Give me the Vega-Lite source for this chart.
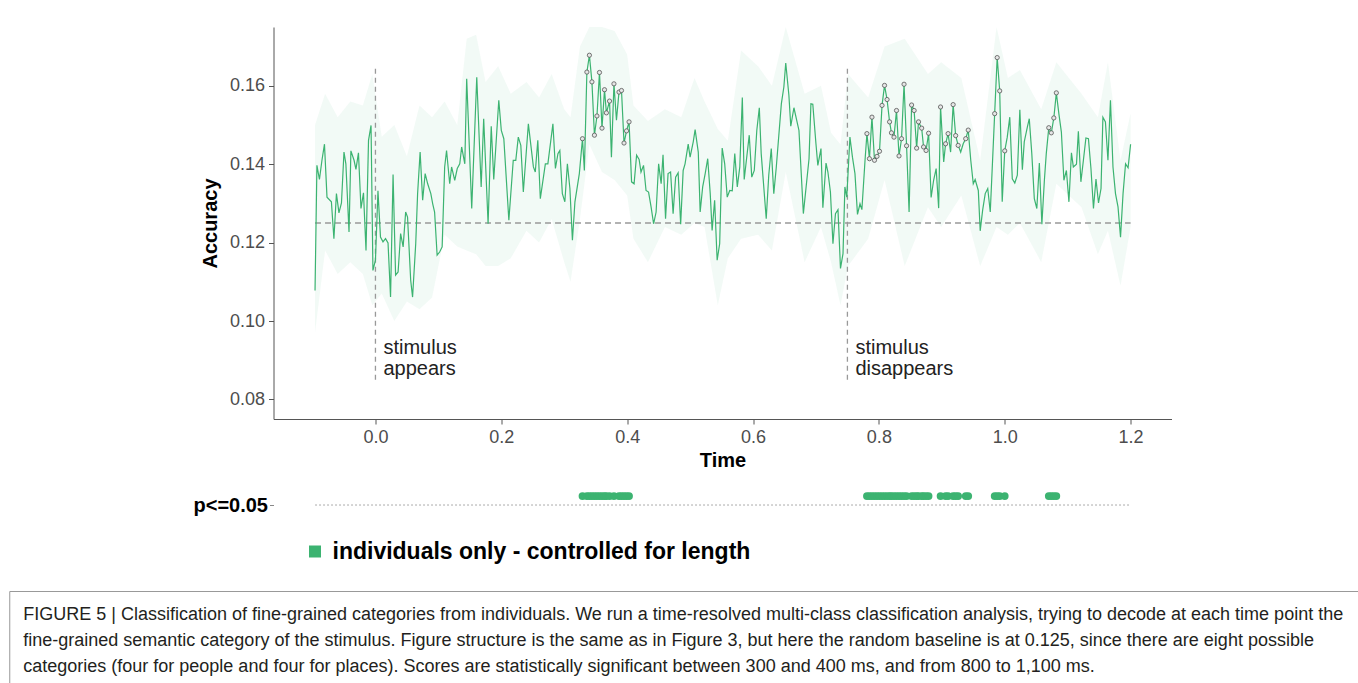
{
  "$schema": "https://vega.github.io/schema/vega-lite/v6.json",
  "background": "white",
  "padding": {"left": 8, "top": 27, "right": 0, "bottom": 0},
  "config": {"view": {"stroke": null}, "font": "Liberation Sans"},
  "datasets": {
    "acc": [
      {"time": -0.096, "acc": 0.1078}, {"time": -0.093, "acc": 0.1397}, {"time": -0.089, "acc": 0.1361}, {"time": -0.085, "acc": 0.141}, {"time": -0.081, "acc": 0.1451}, {"time": -0.077, "acc": 0.1316}, {"time": -0.070, "acc": 0.1304}, {"time": -0.066, "acc": 0.121}, {"time": -0.062, "acc": 0.1325}, {"time": -0.058, "acc": 0.1276}, {"time": -0.054, "acc": 0.1301}, {"time": -0.050, "acc": 0.1431}, {"time": -0.047, "acc": 0.1401}, {"time": -0.042, "acc": 0.1227}, {"time": -0.039, "acc": 0.1434}, {"time": -0.034, "acc": 0.141}, {"time": -0.031, "acc": 0.1387}, {"time": -0.027, "acc": 0.1429}, {"time": -0.023, "acc": 0.1287}, {"time": -0.019, "acc": 0.1327}, {"time": -0.015, "acc": 0.118}, {"time": -0.011, "acc": 0.1461}, {"time": -0.007, "acc": 0.1499}, {"time": -0.004, "acc": 0.1129}, {"time": 0.000, "acc": 0.1155}, {"time": 0.004, "acc": 0.1332}, {"time": 0.008, "acc": 0.1214}, {"time": 0.012, "acc": 0.1202}, {"time": 0.016, "acc": 0.121}, {"time": 0.020, "acc": 0.1199}, {"time": 0.024, "acc": 0.1061}, {"time": 0.028, "acc": 0.1374}, {"time": 0.032, "acc": 0.1117}, {"time": 0.036, "acc": 0.1125}, {"time": 0.040, "acc": 0.1223}, {"time": 0.044, "acc": 0.1189}, {"time": 0.048, "acc": 0.1278}, {"time": 0.051, "acc": 0.1265}, {"time": 0.056, "acc": 0.1104}, {"time": 0.059, "acc": 0.1061}, {"time": 0.064, "acc": 0.1197}, {"time": 0.067, "acc": 0.1325}, {"time": 0.071, "acc": 0.1431}, {"time": 0.075, "acc": 0.1308}, {"time": 0.079, "acc": 0.1376}, {"time": 0.083, "acc": 0.135}, {"time": 0.088, "acc": 0.1325}, {"time": 0.091, "acc": 0.1299}, {"time": 0.094, "acc": 0.1278}, {"time": 0.098, "acc": 0.1168}, {"time": 0.102, "acc": 0.1176}, {"time": 0.106, "acc": 0.1189}, {"time": 0.110, "acc": 0.1393}, {"time": 0.113, "acc": 0.1435}, {"time": 0.118, "acc": 0.135},
      {"time": 0.121, "acc": 0.1393}, {"time": 0.126, "acc": 0.1359}, {"time": 0.130, "acc": 0.1389}, {"time": 0.134, "acc": 0.1401}, {"time": 0.137, "acc": 0.1444}, {"time": 0.142, "acc": 0.1401}, {"time": 0.145, "acc": 0.1618}, {"time": 0.153, "acc": 0.1287}, {"time": 0.161, "acc": 0.1622}, {"time": 0.168, "acc": 0.1342}, {"time": 0.172, "acc": 0.1516}, {"time": 0.179, "acc": 0.1248}, {"time": 0.184, "acc": 0.1497}, {"time": 0.188, "acc": 0.1361}, {"time": 0.196, "acc": 0.1563}, {"time": 0.200, "acc": 0.1486}, {"time": 0.204, "acc": 0.1465}, {"time": 0.212, "acc": 0.1257}, {"time": 0.219, "acc": 0.141}, {"time": 0.223, "acc": 0.141}, {"time": 0.227, "acc": 0.1469}, {"time": 0.231, "acc": 0.1448}, {"time": 0.235, "acc": 0.1329}, {"time": 0.243, "acc": 0.1503}, {"time": 0.251, "acc": 0.1393}, {"time": 0.254, "acc": 0.138}, {"time": 0.258, "acc": 0.1461}, {"time": 0.262, "acc": 0.1312}, {"time": 0.270, "acc": 0.1401}, {"time": 0.274, "acc": 0.1401}, {"time": 0.282, "acc": 0.1503}, {"time": 0.286, "acc": 0.1389}, {"time": 0.290, "acc": 0.1427}, {"time": 0.293, "acc": 0.1435}, {"time": 0.297, "acc": 0.1325}, {"time": 0.301, "acc": 0.1304}, {"time": 0.305, "acc": 0.1401}, {"time": 0.309, "acc": 0.1338}, {"time": 0.313, "acc": 0.1206}, {"time": 0.317, "acc": 0.1304}, {"time": 0.324, "acc": 0.1376}, {"time": 0.329, "acc": 0.1465, "sig": 1}, {"time": 0.332, "acc": 0.1384},
      {"time": 0.336, "acc": 0.1635, "sig": 1}, {"time": 0.340, "acc": 0.1678, "sig": 1}, {"time": 0.344, "acc": 0.161, "sig": 1}, {"time": 0.348, "acc": 0.1474, "sig": 1}, {"time": 0.352, "acc": 0.1523, "sig": 1}, {"time": 0.356, "acc": 0.1634, "sig": 1}, {"time": 0.360, "acc": 0.1492, "sig": 1}, {"time": 0.364, "acc": 0.159, "sig": 1}, {"time": 0.367, "acc": 0.1531, "sig": 1}, {"time": 0.372, "acc": 0.1561, "sig": 1}, {"time": 0.375, "acc": 0.1418}, {"time": 0.379, "acc": 0.1605, "sig": 1}, {"time": 0.383, "acc": 0.1512}, {"time": 0.387, "acc": 0.1584, "sig": 1}, {"time": 0.391, "acc": 0.1588, "sig": 1}, {"time": 0.395, "acc": 0.1454, "sig": 1}, {"time": 0.399, "acc": 0.1485, "sig": 1}, {"time": 0.403, "acc": 0.1508, "sig": 1}, {"time": 0.407, "acc": 0.1355}, {"time": 0.411, "acc": 0.135}, {"time": 0.415, "acc": 0.1423}, {"time": 0.419, "acc": 0.1412}, {"time": 0.422, "acc": 0.138}, {"time": 0.426, "acc": 0.1397}, {"time": 0.430, "acc": 0.1333}, {"time": 0.434, "acc": 0.1329}, {"time": 0.438, "acc": 0.1291}, {"time": 0.442, "acc": 0.1248}, {"time": 0.446, "acc": 0.1278}, {"time": 0.450, "acc": 0.1401}, {"time": 0.454, "acc": 0.135}, {"time": 0.457, "acc": 0.1424}, {"time": 0.461, "acc": 0.1261}, {"time": 0.465, "acc": 0.1376}, {"time": 0.469, "acc": 0.138}, {"time": 0.473, "acc": 0.1274}, {"time": 0.477, "acc": 0.1367}, {"time": 0.481, "acc": 0.1378}, {"time": 0.485, "acc": 0.1247}, {"time": 0.489, "acc": 0.1384}, {"time": 0.492, "acc": 0.1401}, {"time": 0.497, "acc": 0.1451}, {"time": 0.500, "acc": 0.1418}, {"time": 0.505, "acc": 0.1457}, {"time": 0.508, "acc": 0.1488}, {"time": 0.513, "acc": 0.1431}, {"time": 0.516, "acc": 0.1278}, {"time": 0.520, "acc": 0.1342}, {"time": 0.524, "acc": 0.1376}, {"time": 0.528, "acc": 0.1414}, {"time": 0.532, "acc": 0.1325}, {"time": 0.535, "acc": 0.1231}, {"time": 0.539, "acc": 0.1308}, {"time": 0.543, "acc": 0.1155}, {"time": 0.547, "acc": 0.1197}, {"time": 0.551, "acc": 0.1441}, {"time": 0.555, "acc": 0.1401}, {"time": 0.559, "acc": 0.1316}, {"time": 0.563, "acc": 0.1333},
      {"time": 0.567, "acc": 0.1332}, {"time": 0.571, "acc": 0.1427}, {"time": 0.575, "acc": 0.1342}, {"time": 0.579, "acc": 0.1393}, {"time": 0.583, "acc": 0.157}, {"time": 0.586, "acc": 0.1361}, {"time": 0.594, "acc": 0.1474}, {"time": 0.598, "acc": 0.1367}, {"time": 0.602, "acc": 0.1384}, {"time": 0.606, "acc": 0.1486}, {"time": 0.610, "acc": 0.1544}, {"time": 0.613, "acc": 0.1427}, {"time": 0.621, "acc": 0.1261}, {"time": 0.625, "acc": 0.1372}, {"time": 0.629, "acc": 0.144}, {"time": 0.633, "acc": 0.1325}, {"time": 0.637, "acc": 0.1393}, {"time": 0.645, "acc": 0.1554}, {"time": 0.649, "acc": 0.1597}, {"time": 0.652, "acc": 0.1658}, {"time": 0.657, "acc": 0.1576}, {"time": 0.660, "acc": 0.1497}, {"time": 0.665, "acc": 0.1544}, {"time": 0.673, "acc": 0.1486}, {"time": 0.680, "acc": 0.1274}, {"time": 0.689, "acc": 0.1414}, {"time": 0.692, "acc": 0.1554}, {"time": 0.695, "acc": 0.1553}, {"time": 0.700, "acc": 0.1452}, {"time": 0.703, "acc": 0.1397}, {"time": 0.708, "acc": 0.144}, {"time": 0.711, "acc": 0.1289}, {"time": 0.716, "acc": 0.1403}, {"time": 0.719, "acc": 0.138}, {"time": 0.723, "acc": 0.1329}, {"time": 0.727, "acc": 0.1197}, {"time": 0.731, "acc": 0.1274}, {"time": 0.735, "acc": 0.1284}, {"time": 0.739, "acc": 0.1134}, {"time": 0.743, "acc": 0.1172}, {"time": 0.746, "acc": 0.1342}, {"time": 0.749, "acc": 0.1316}, {"time": 0.754, "acc": 0.1469}, {"time": 0.758, "acc": 0.1418}, {"time": 0.762, "acc": 0.1376}, {"time": 0.766, "acc": 0.1272}, {"time": 0.770, "acc": 0.1299}, {"time": 0.773, "acc": 0.1284}, {"time": 0.778, "acc": 0.141}, {"time": 0.781, "acc": 0.1478, "sig": 1}, {"time": 0.785, "acc": 0.1414, "sig": 1},
      {"time": 0.789, "acc": 0.152, "sig": 1}, {"time": 0.793, "acc": 0.141, "sig": 1}, {"time": 0.797, "acc": 0.142, "sig": 1}, {"time": 0.801, "acc": 0.1433, "sig": 1}, {"time": 0.805, "acc": 0.155, "sig": 1}, {"time": 0.809, "acc": 0.1601, "sig": 1}, {"time": 0.813, "acc": 0.1565, "sig": 1}, {"time": 0.817, "acc": 0.1508, "sig": 1}, {"time": 0.820, "acc": 0.148, "sig": 1}, {"time": 0.824, "acc": 0.1469, "sig": 1}, {"time": 0.828, "acc": 0.1537, "sig": 1}, {"time": 0.832, "acc": 0.1421, "sig": 1}, {"time": 0.836, "acc": 0.1465, "sig": 1}, {"time": 0.840, "acc": 0.1604, "sig": 1}, {"time": 0.844, "acc": 0.1447, "sig": 1}, {"time": 0.848, "acc": 0.1278}, {"time": 0.852, "acc": 0.1551, "sig": 1}, {"time": 0.856, "acc": 0.1537, "sig": 1}, {"time": 0.860, "acc": 0.1441, "sig": 1}, {"time": 0.863, "acc": 0.1508, "sig": 1}, {"time": 0.868, "acc": 0.1492, "sig": 1}, {"time": 0.871, "acc": 0.1444, "sig": 1}, {"time": 0.875, "acc": 0.1435, "sig": 1}, {"time": 0.879, "acc": 0.1479, "sig": 1}, {"time": 0.883, "acc": 0.1315}, {"time": 0.887, "acc": 0.1359}, {"time": 0.891, "acc": 0.1389}, {"time": 0.895, "acc": 0.1288}, {"time": 0.898, "acc": 0.1546, "sig": 1}, {"time": 0.903, "acc": 0.1406}, {"time": 0.906, "acc": 0.1452, "sig": 1}, {"time": 0.910, "acc": 0.1478, "sig": 1}, {"time": 0.914, "acc": 0.1431}, {"time": 0.918, "acc": 0.1552, "sig": 1}, {"time": 0.922, "acc": 0.1473, "sig": 1}, {"time": 0.926, "acc": 0.1448, "sig": 1}, {"time": 0.930, "acc": 0.1431}, {"time": 0.934, "acc": 0.1452}, {"time": 0.938, "acc": 0.1465, "sig": 1}, {"time": 0.942, "acc": 0.1487, "sig": 1}, {"time": 0.946, "acc": 0.141}, {"time": 0.950, "acc": 0.135}, {"time": 0.953, "acc": 0.1361}, {"time": 0.958, "acc": 0.1333}, {"time": 0.961, "acc": 0.123}, {"time": 0.965, "acc": 0.1284}, {"time": 0.969, "acc": 0.1325}, {"time": 0.973, "acc": 0.1338}, {"time": 0.977, "acc": 0.1278}, {"time": 0.984, "acc": 0.1529, "sig": 1}, {"time": 0.988, "acc": 0.1672, "sig": 1}, {"time": 0.992, "acc": 0.1587, "sig": 1}, {"time": 0.996, "acc": 0.1304}, {"time": 1.000, "acc": 0.1434, "sig": 1}, {"time": 1.004, "acc": 0.1469}, {"time": 1.008, "acc": 0.152},
      {"time": 1.012, "acc": 0.1363}, {"time": 1.016, "acc": 0.1352}, {"time": 1.020, "acc": 0.1372}, {"time": 1.024, "acc": 0.1539}, {"time": 1.028, "acc": 0.1386}, {"time": 1.031, "acc": 0.1457}, {"time": 1.036, "acc": 0.1495}, {"time": 1.039, "acc": 0.1516}, {"time": 1.043, "acc": 0.1427}, {"time": 1.047, "acc": 0.1312}, {"time": 1.051, "acc": 0.1287}, {"time": 1.055, "acc": 0.1403}, {"time": 1.059, "acc": 0.1247}, {"time": 1.063, "acc": 0.1359}, {"time": 1.066, "acc": 0.1427}, {"time": 1.070, "acc": 0.1493, "sig": 1}, {"time": 1.074, "acc": 0.148, "sig": 1}, {"time": 1.078, "acc": 0.1518, "sig": 1}, {"time": 1.082, "acc": 0.1582, "sig": 1}, {"time": 1.086, "acc": 0.1529}, {"time": 1.090, "acc": 0.1482}, {"time": 1.094, "acc": 0.1359}, {"time": 1.098, "acc": 0.1384}, {"time": 1.102, "acc": 0.1304}, {"time": 1.106, "acc": 0.1429}, {"time": 1.109, "acc": 0.1393}, {"time": 1.114, "acc": 0.14}, {"time": 1.117, "acc": 0.1484}, {"time": 1.121, "acc": 0.1355}, {"time": 1.125, "acc": 0.141}, {"time": 1.129, "acc": 0.1467}, {"time": 1.133, "acc": 0.1465}, {"time": 1.137, "acc": 0.1389}, {"time": 1.141, "acc": 0.1287}, {"time": 1.145, "acc": 0.1362}, {"time": 1.149, "acc": 0.1301}, {"time": 1.153, "acc": 0.1338}, {"time": 1.156, "acc": 0.152}, {"time": 1.160, "acc": 0.1508}, {"time": 1.164, "acc": 0.141}, {"time": 1.168, "acc": 0.1563}, {"time": 1.172, "acc": 0.1393}, {"time": 1.176, "acc": 0.1325}, {"time": 1.180, "acc": 0.1291}, {"time": 1.184, "acc": 0.1214}, {"time": 1.188, "acc": 0.1325}, {"time": 1.192, "acc": 0.1401}, {"time": 1.196, "acc": 0.1391}, {"time": 1.200, "acc": 0.1451}
    ],
    "band": [
      {"time": -0.096, "lo": 0.097, "hi": 0.150}, {"time": -0.08, "lo": 0.118, "hi": 0.158}, {"time": -0.06, "lo": 0.112, "hi": 0.152}, {"time": -0.04, "lo": 0.115, "hi": 0.156}, {"time": -0.02, "lo": 0.112, "hi": 0.155}, {"time": -0.005, "lo": 0.104, "hi": 0.163}, {"time": 0.01, "lo": 0.107, "hi": 0.147}, {"time": 0.03, "lo": 0.100, "hi": 0.150}, {"time": 0.05, "lo": 0.105, "hi": 0.142}, {"time": 0.07, "lo": 0.103, "hi": 0.155}, {"time": 0.09, "lo": 0.106, "hi": 0.152}, {"time": 0.11, "lo": 0.122, "hi": 0.156}, {"time": 0.13, "lo": 0.119, "hi": 0.150}, {"time": 0.145, "lo": 0.118, "hi": 0.172}, {"time": 0.16, "lo": 0.117, "hi": 0.173}, {"time": 0.175, "lo": 0.114, "hi": 0.161}, {"time": 0.195, "lo": 0.114, "hi": 0.165}, {"time": 0.215, "lo": 0.116, "hi": 0.158}, {"time": 0.24, "lo": 0.123, "hi": 0.161}, {"time": 0.26, "lo": 0.120, "hi": 0.157}, {"time": 0.28, "lo": 0.126, "hi": 0.163}, {"time": 0.30, "lo": 0.115, "hi": 0.154}, {"time": 0.31, "lo": 0.110, "hi": 0.152}, {"time": 0.325, "lo": 0.126, "hi": 0.170}, {"time": 0.34, "lo": 0.145, "hi": 0.175}, {"time": 0.36, "lo": 0.138, "hi": 0.175}, {"time": 0.38, "lo": 0.136, "hi": 0.174}, {"time": 0.40, "lo": 0.132, "hi": 0.168}, {"time": 0.41, "lo": 0.121, "hi": 0.155}, {"time": 0.433, "lo": 0.115, "hi": 0.151}, {"time": 0.46, "lo": 0.124, "hi": 0.154}, {"time": 0.486, "lo": 0.122, "hi": 0.152}, {"time": 0.507, "lo": 0.125, "hi": 0.162}, {"time": 0.523, "lo": 0.124, "hi": 0.156}, {"time": 0.544, "lo": 0.104, "hi": 0.149}, {"time": 0.56, "lo": 0.116, "hi": 0.146}, {"time": 0.581, "lo": 0.121, "hi": 0.169}, {"time": 0.608, "lo": 0.122, "hi": 0.165}, {"time": 0.63, "lo": 0.118, "hi": 0.160}, {"time": 0.652, "lo": 0.138, "hi": 0.175}, {"time": 0.682, "lo": 0.115, "hi": 0.158}, {"time": 0.708, "lo": 0.124, "hi": 0.160}, {"time": 0.724, "lo": 0.115, "hi": 0.148}, {"time": 0.739, "lo": 0.104, "hi": 0.145}, {"time": 0.751, "lo": 0.114, "hi": 0.163}, {"time": 0.783, "lo": 0.121, "hi": 0.157}, {"time": 0.809, "lo": 0.136, "hi": 0.170}, {"time": 0.841, "lo": 0.114, "hi": 0.172}, {"time": 0.878, "lo": 0.129, "hi": 0.163}, {"time": 0.899, "lo": 0.124, "hi": 0.166}, {"time": 0.931, "lo": 0.132, "hi": 0.162}, {"time": 0.961, "lo": 0.114, "hi": 0.141}, {"time": 0.987, "lo": 0.124, "hi": 0.175}, {"time": 1.005, "lo": 0.122, "hi": 0.162}, {"time": 1.024, "lo": 0.125, "hi": 0.164}, {"time": 1.058, "lo": 0.115, "hi": 0.154}, {"time": 1.082, "lo": 0.135, "hi": 0.166}, {"time": 1.122, "lo": 0.129, "hi": 0.158}, {"time": 1.148, "lo": 0.117, "hi": 0.152}, {"time": 1.164, "lo": 0.123, "hi": 0.166}, {"time": 1.184, "lo": 0.109, "hi": 0.141}, {"time": 1.2, "lo": 0.124, "hi": 0.153}
    ]
  },
  "spacing": 15,
  "center": true,
  "resolve": {"scale": {"color": "independent"}, "legend": {"color": "independent"}},
  "vconcat": [
    {
      "spacing": 14,
      "resolve": {"scale": {"color": "independent"}, "legend": {"color": "independent"}},
      "vconcat": [
        {
          "width": 898,
          "height": 392,
          "layer": [
            {
              "data": {"name": "band"},
              "mark": {"type": "area", "color": "#3cb371", "opacity": 0.065, "clip": true},
              "encoding": {
                "x": {"field": "time", "type": "quantitative", "scale": {"domain": [-0.162, 1.265], "nice": false, "zero": false},
                  "axis": {"title": "Time", "values": [0, 0.2, 0.4, 0.6, 0.8, 1, 1.2], "format": ".1f", "grid": false, "domainColor": "#555", "tickColor": "#555", "tickSize": 5, "labelFontSize": 18, "labelColor": "#4d4d4d", "labelPadding": 4, "titleFontSize": 20, "titleFontWeight": "bold", "titleColor": "#000", "titlePadding": 4}},
                "y": {"field": "lo", "type": "quantitative", "scale": {"domain": [0.075, 0.175], "nice": false, "zero": false},
                  "axis": {"title": "Accuracy", "values": [0.08, 0.1, 0.12, 0.14, 0.16], "format": ".2f", "grid": false, "domainColor": "#555", "tickColor": "#555", "tickSize": 5, "labelFontSize": 18, "labelColor": "#4d4d4d", "labelPadding": 4, "titleFontSize": 20, "titleFontWeight": "bold", "titleColor": "#000", "titlePadding": 9}},
                "y2": {"field": "hi"}
              }
            },
            {
              "data": {"values": [{"event": 0}, {"event": 0.75}]},
              "mark": {"type": "rule", "color": "#999", "strokeDash": [5, 4], "strokeWidth": 1.3},
              "encoding": {"x": {"field": "event", "type": "quantitative"}, "y": {"datum": 0.085}, "y2": {"datum": 0.165}}
            },
            {
              "data": {"values": [{}]},
              "mark": {"type": "rule", "color": "#999", "strokeDash": [6, 4], "strokeWidth": 1.3},
              "encoding": {"x": {"datum": -0.096}, "x2": {"datum": 1.2}, "y": {"datum": 0.125}}
            },
            {
              "data": {"name": "acc"},
              "mark": {"type": "line", "color": "#3cb371", "strokeWidth": 1.2},
              "encoding": {"x": {"field": "time", "type": "quantitative"}, "y": {"field": "acc", "type": "quantitative"}}
            },
            {
              "data": {"name": "acc"},
              "transform": [{"filter": "datum.sig == 1"}],
              "mark": {"type": "point", "shape": "circle", "size": 18, "filled": false, "fill": "#e6e6e6", "fillOpacity": 1, "stroke": "#555", "strokeWidth": 0.8, "opacity": 1},
              "encoding": {"x": {"field": "time", "type": "quantitative"}, "y": {"field": "acc", "type": "quantitative"}}
            },
            {
              "data": {"values": [{"event": 0, "label": "stimulus\nappears"}, {"event": 0.75, "label": "stimulus\ndisappears"}]},
              "mark": {"type": "text", "align": "left", "baseline": "middle", "dx": 8, "fontSize": 20, "color": "#222", "lineBreak": "\n", "lineHeight": 21},
              "encoding": {"x": {"field": "event", "type": "quantitative"}, "y": {"datum": 0.0931}, "text": {"field": "label"}}
            }
          ]
        },
        {
          "width": 898,
          "height": 91,
          "layer": [
            {
              "data": {"values": [{}]},
              "mark": {"type": "rule", "color": "#aaa", "strokeDash": [2, 2], "strokeWidth": 1},
              "encoding": {
                "x": {"datum": -0.096, "type": "quantitative", "scale": {"domain": [-0.162, 1.265], "nice": false, "zero": false}, "axis": null},
                "x2": {"datum": 1.2},
                "y": {"datum": 0.769, "type": "quantitative", "scale": {"domain": [0, 1], "nice": false},
                  "axis": {"values": [0.769], "labelExpr": "'p<=0.05'", "title": null, "domain": false, "grid": false, "tickSize": 4, "tickColor": "#888", "labelFontSize": 20, "labelFontWeight": "bold", "labelColor": "#000", "labelPadding": 2}}
              }
            },
            {
              "data": {"name": "acc"},
              "transform": [{"filter": "datum.sig == 1"}],
              "mark": {"type": "circle", "size": 60, "opacity": 1},
              "encoding": {
                "x": {"field": "time", "type": "quantitative"},
                "y": {"datum": 0.868, "type": "quantitative"},
                "color": {"datum": "individuals only - controlled for length", "type": "nominal", "scale": {"range": ["#3cb371"]},
                  "legend": {"title": null, "orient": "none", "legendX": 30, "legendY": 56, "symbolType": "square", "symbolSize": 144, "labelFontSize": 23, "labelFontWeight": "bold", "labelColor": "#000", "labelOffset": 6, "labelLimit": 0, "padding": 0, "symbolStrokeWidth": 0}}
              }
            }
          ]
        }
      ]
    },
    {
      "width": 1426,
      "height": 100,
      "view": {"stroke": "#999", "strokeWidth": 1},
      "data": {"values": [
        {"line": 1, "text": "FIGURE 5 | Classification of fine-grained categories from individuals. We run a time-resolved multi-class classification analysis, trying to decode at each time point the"},
        {"line": 2, "text": "fine-grained semantic category of the stimulus. Figure structure is the same as in Figure 3, but here the random baseline is at 0.125, since there are eight possible"},
        {"line": 3, "text": "categories (four for people and four for places). Scores are statistically significant between 300 and 400 ms, and from 800 to 1,100 ms."}
      ]},
      "mark": {"type": "text", "align": "left", "baseline": "middle", "dx": 14, "fontSize": 18, "font": "Liberation Sans", "color": "#231f20"},
      "encoding": {
        "x": {"datum": 0, "type": "quantitative", "scale": {"domain": [0, 1]}, "axis": null},
        "y": {"field": "line", "type": "ordinal", "scale": {"type": "point", "padding": 0.923}, "axis": null},
        "text": {"field": "text"}
      }
    }
  ]
}
